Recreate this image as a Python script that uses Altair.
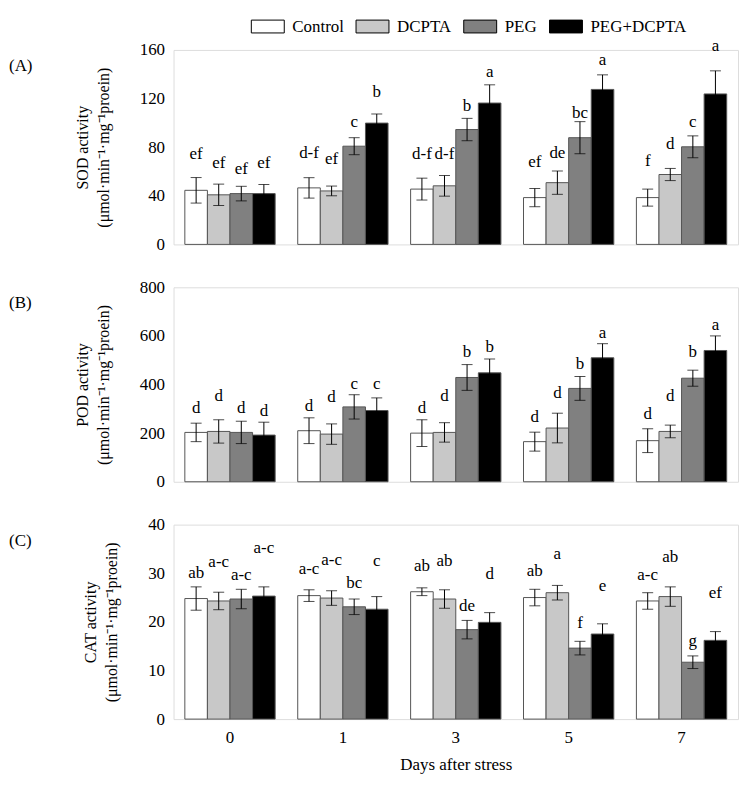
import altair as alt
import pandas as pd

days = ["0", "1", "3", "5", "7"]
treatments = ["Control", "DCPTA", "PEG", "PEG+DCPTA"]
colors = ["white", "#c8c8c8", "#808080", "black"]

# rows = days, columns = treatments
sod_mean = [[44.5, 40.8, 41.8, 41.8], [46.5, 44.0, 80.8, 99.8], [45.5, 48.2, 94.5, 116.3],
            [38.5, 50.8, 87.8, 127.5], [38.5, 57.5, 80.3, 123.8]]
sod_sd = [[10.5, 8.8, 6.0, 7.5], [8.4, 4.0, 7.0, 7.5], [9.0, 8.5, 9.2, 15.0],
          [7.5, 9.6, 13.2, 12.0], [7.0, 5.0, 9.0, 19.0]]
sod_let = [["ef", "ef", "ef", "ef"], ["d-f", "ef", "c", "b"], ["d-f", "d-f", "b", "a"],
           ["ef", "de", "bc", "a"], ["f", "d", "c", "a"]]
# height (in SOD units) at which each significance letter is printed
sod_let_y = [[74, 66.7, 62.3, 66.7], [74.8, 70, 101, 125], [74, 74, 114, 142],
             [67.8, 74.8, 108, 152], [68.3, 83, 101, 163]]

pod_mean = [[203, 207, 203, 192], [210, 196, 308, 293], [200, 203, 429, 448],
            [165, 221, 384, 510], [169, 207, 426, 540]]
pod_sd = [[38, 48, 46, 53], [53, 42, 50, 52], [55, 40, 53, 57],
          [39, 61, 49, 58], [49, 26, 33, 60]]
pod_let = [["d", "d", "d", "d"], ["d", "d", "c", "c"], ["d", "d", "b", "b"],
           ["d", "d", "b", "a"], ["d", "d", "b", "a"]]
pod_let_y = [[302, 354, 302, 293], [313, 347, 402, 402], [302, 351, 534, 555],
             [266, 364, 486, 613], [277, 354, 534, 643]]

cat_mean = [[24.8, 24.3, 24.7, 25.3], [25.4, 24.9, 23.1, 22.6], [26.2, 24.7, 18.4, 19.9],
            [25.0, 26.0, 14.6, 17.5], [24.3, 25.2, 11.7, 16.2]]
cat_sd = [[2.4, 1.8, 2.0, 1.9], [1.2, 1.5, 1.6, 2.6], [0.8, 1.9, 1.9, 2.0],
          [1.7, 1.5, 1.4, 2.1], [1.7, 2.0, 1.3, 1.8]]
cat_let = [["ab", "a-c", "a-c", "a-c"], ["a-c", "a-c", "bc", "c"], ["ab", "ab", "de", "d"],
           ["ab", "a", "f", "e"], ["a-c", "ab", "g", "ef"]]
cat_let_y = [[30.0, 32.3, 29.6, 35.1], [30.8, 32.8, 27.9, 32.6], [31.5, 32.6, 23.3, 29.9],
             [30.4, 33.9, 19.7, 27.4], [29.6, 33.3, 16.0, 26.0]]

FONT = "Liberation Serif"
W, H = 566, 195


def frame(means, sds, lets, let_y):
    rows = []
    for i, d in enumerate(days):
        for j, t in enumerate(treatments):
            rows.append({"day": d, "treatment": t, "mean": means[i][j],
                         "sd": sds[i][j], "letter": lets[i][j], "ly": let_y[i][j]})
    return pd.DataFrame(rows)


def panel(df, tag, name, ymax, step, show_x, show_legend):
    xaxis = alt.Axis(labelAngle=0, labelFontSize=17, labelFont=FONT, ticks=False,
                     domain=False, labelPadding=10, title="Days after stress",
                     titleFont=FONT, titleFontSize=17, titleFontWeight="normal",
                     titlePadding=12) if show_x else None
    x = alt.X("day:N", sort=days, axis=xaxis,
              scale=alt.Scale(paddingInner=0.2, paddingOuter=0.1))
    xo = alt.XOffset("treatment:N", sort=treatments,
                     scale=alt.Scale(paddingInner=0, paddingOuter=0))
    yscale = alt.Scale(domain=[0, ymax], nice=False)
    yaxis = alt.Axis(values=list(range(0, ymax + 1, step)), grid=False, ticks=False,
                     domain=False, labelFontSize=17, labelFont=FONT, labelPadding=9,
                     title=[f"{name} activity", "(μmol·min⁻¹·mg⁻¹proein)"],
                     titleFont=FONT, titleFontSize=16, titleFontWeight="normal",
                     titlePadding=28, titleLineHeight=21, titleLimit=192)
    if show_legend:
        legend = alt.Legend(title=None, orient="none", legendX=77, legendY=-41,
                            direction="horizontal", columns=4,
                            symbolType="M-1,-0.39L1,-0.39L1,0.39L-1,0.39Z",
                            symbolSize=1090, symbolStrokeColor="black",
                            symbolStrokeWidth=1, symbolOpacity=1,
                            labelFont=FONT, labelFontSize=17, labelOffset=7,
                            columnPadding=9)
    else:
        legend = None
    base = alt.Chart(df).encode(x=x, xOffset=xo)
    bars = base.mark_bar(stroke="#555", strokeWidth=1, opacity=1).encode(
        y=alt.Y("mean:Q", scale=yscale, axis=yaxis),
        fill=alt.Fill("treatment:N", sort=treatments,
                      scale=alt.Scale(domain=treatments, range=colors), legend=legend),
    )
    err = base.transform_calculate(lo="datum.mean - datum.sd", hi="datum.mean + datum.sd")
    rule = err.mark_rule(color="black", strokeWidth=1).encode(y="lo:Q", y2="hi:Q")
    cap_hi = err.mark_tick(color="black", size=11, thickness=1).encode(y="hi:Q")
    cap_lo = err.mark_tick(color="black", size=11, thickness=1).encode(y="lo:Q")
    letters = base.mark_text(font=FONT, fontSize=17, baseline="middle",
                             color="black").encode(y="ly:Q", text="letter:N")
    label = alt.Chart(pd.DataFrame({"t": [tag]})).mark_text(
        font=FONT, fontSize=17, align="left", baseline="middle", color="black"
    ).encode(x=alt.value(-165), y=alt.value(16), text="t:N")
    return alt.layer(bars, rule, cap_hi, cap_lo, letters, label).properties(width=W, height=H)


a = panel(frame(sod_mean, sod_sd, sod_let, sod_let_y), "(A)", "SOD", 160, 40, False, True)
b = panel(frame(pod_mean, pod_sd, pod_let, pod_let_y), "(B)", "POD", 800, 200, False, False)
c = panel(frame(cat_mean, cat_sd, cat_let, cat_let_y), "(C)", "CAT", 40, 10, True, False)

chart = alt.vconcat(a, b, c, spacing=24).properties(padding=0).configure_view(
    stroke="#444", strokeWidth=1
).configure(background="white", font=FONT)

chart.save("out.html", embed_options={"renderer": "svg", "actions": False})
